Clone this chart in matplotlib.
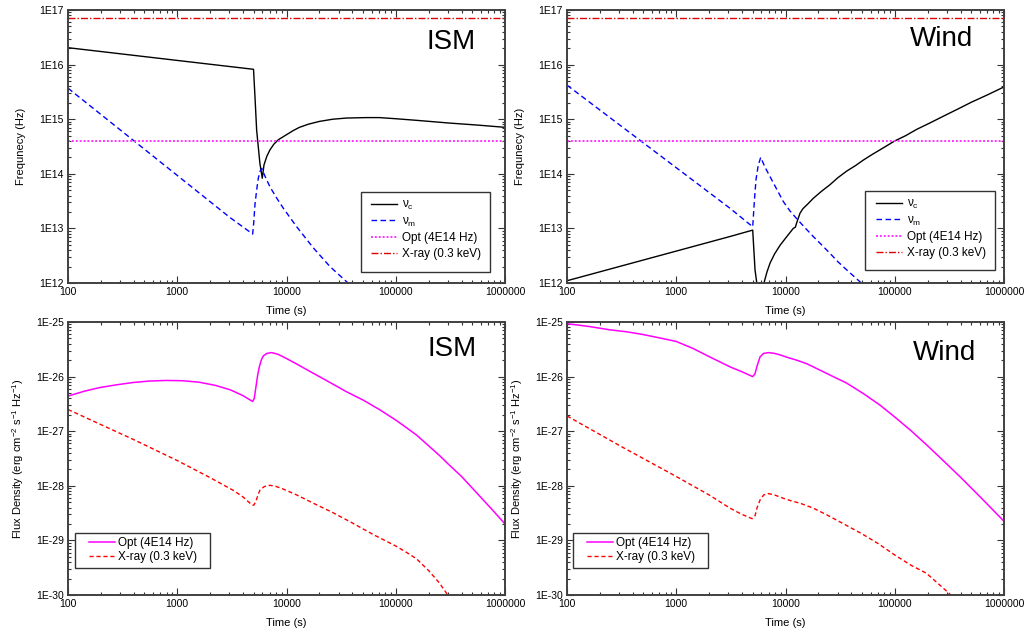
import numpy as np
import matplotlib
matplotlib.use('Agg')
import matplotlib.pyplot as plt
from matplotlib.patches import Rectangle
from matplotlib.ticker import LogLocator, FixedLocator, FuncFormatter, NullFormatter

plt.rcParams['font.family'] = ['Liberation Sans', 'DejaVu Sans']
plt.rcParams['mathtext.fontset'] = 'custom'
plt.rcParams['mathtext.rm'] = 'Liberation Sans'
plt.rcParams['mathtext.it'] = 'Liberation Sans'

# ---- data ----
nu_opt = 4e14     # Hz
nu_x = 7.25e16    # Hz (0.3 keV)

# ISM: characteristic frequencies
t_c_ism = [100, 4990, 5150, 5330, 5710, 6000, 6220, 6610, 7060, 7670, 8410, 10000,
           11530, 13150, 15850, 19950, 26550, 35500, 53700, 70800, 1e5, 158500,
           309000, 562000, 1e6]
nu_c_ism = [2.04e16, 8.2e15, 2.5e15, 6.3e14, 1.55e14, 8.3e13, 1.45e14, 2.1e14,
            2.75e14, 3.5e14, 4.2e14, 5.2e14, 6.2e14, 7.1e14, 8.1e14, 9.1e14, 1.0e15,
            1.05e15, 1.07e15, 1.07e15, 1.02e15, 9.5e14, 8.5e14, 7.8e14, 7.1e14]
t_m_ism = [100, 3040, 4900, 5010, 5150, 5330, 5520, 5710, 5930, 6310, 7060, 8130,
           9350, 12400, 17600, 25000, 35600, 45000]
nu_m_ism = [3.7e15, 1.58e13, 7.9e12, 1.26e13, 2.8e13, 5.0e13, 8.3e13, 1.1e14,
            1.26e14, 9.3e13, 5.75e13, 3.6e13, 2.34e13, 1.07e13, 4.4e12, 2.0e12,
            1.05e12, 6.9e11]

# Wind: characteristic frequencies
t_c_wind = [100, 3100, 5010, 5260, 5500, 5890, 6350, 6760, 7210, 7940, 8910, 10000,
            11780, 12300, 12650, 13580, 14450, 15850, 17950, 21400, 25500, 30200,
            36300, 43650, 51500, 61700, 73300, 1e5, 126000, 158500, 209000, 275000,
            372000, 501000, 708000, 1e6]
nu_c_wind = [1.1e12, 7.1e12, 9.3e12, 1.74e12, 9e11, 3.2e11, 1.0e12, 1.58e12, 2.3e12,
             3.4e12, 4.9e12, 6.6e12, 1.0e13, 1.05e13, 1.26e13, 1.9e13, 2.3e13,
             2.75e13, 3.55e13, 4.8e13, 6.3e13, 8.5e13, 1.12e14, 1.41e14, 1.78e14,
             2.24e14, 2.75e14, 4.0e14, 5.0e14, 6.5e14, 8.5e14, 1.12e15, 1.51e15,
             2.04e15, 2.8e15, 3.9e15]
t_m_wind = [100, 3100, 5010, 5190, 5370, 5620, 5930, 6460, 7210, 8320, 9550, 10960,
            12650, 15140, 17950, 21400, 25500, 30200, 36300, 48100, 57500]
nu_m_wind = [4.2e15, 2.34e13, 1.07e13, 3.2e13, 7.8e13, 1.41e14, 2.0e14, 1.35e14,
             8.9e13, 5.2e13, 3.1e13, 2.1e13, 1.51e13, 1.02e13, 7.1e12, 5.0e12,
             3.5e12, 2.45e12, 1.74e12, 1.05e12, 7.6e11]

# ISM: flux densities
t_f_opt_ism = [100, 141, 195, 282, 394, 562, 794, 1122, 1585, 2240, 3040, 3980, 4900,
               5070, 5260, 5440, 5640, 5890, 6140, 6610, 7310, 8320, 9350, 12400,
               17600, 25000, 35600, 50500, 71800, 1e5, 126000, 155000, 200000, 251000,
               309000, 398000, 562000, 759000, 1e6]
f_opt_ism = [4.4e-27, 5.4e-27, 6.3e-27, 7.1e-27, 7.8e-27, 8.3e-27, 8.5e-27, 8.4e-27,
             7.9e-27, 6.9e-27, 5.75e-27, 4.5e-27, 3.5e-27, 4.0e-27, 6.6e-27, 1.05e-26,
             1.51e-26, 2.04e-26, 2.4e-26, 2.66e-26, 2.75e-26, 2.57e-26, 2.3e-26,
             1.7e-26, 1.15e-26, 7.8e-27, 5.25e-27, 3.7e-27, 2.45e-27, 1.6e-27,
             1.15e-27, 8.5e-28, 5.4e-28, 3.6e-28, 2.4e-28, 1.5e-28, 7.1e-29, 3.7e-29,
             2.0e-29]
t_f_x_ism = [100, 200, 394, 1000, 2000, 3240, 3980, 4800, 5010, 5250, 5500, 5710,
             6170, 6610, 7060, 7940, 9350, 12400, 17600, 26800, 39800, 63100, 1e5,
             126000, 155000, 200000, 251000, 299000, 355000]
f_x_ism = [2.5e-27, 1.32e-27, 7.1e-28, 2.9e-28, 1.41e-28, 8.3e-29, 6.3e-29, 4.5e-29,
           4.4e-29, 5.2e-29, 6.9e-29, 8.3e-29, 9.5e-29, 1.01e-28, 1.02e-28, 9.8e-29,
           8.7e-29, 6.8e-29, 4.8e-29, 3.2e-29, 2.1e-29, 1.26e-29, 7.9e-30, 6.0e-30,
           4.6e-30, 2.8e-30, 1.66e-30, 1.0e-30, 5.6e-31]

# Wind: flux densities
t_f_opt_wind = [100, 158, 245, 355, 495, 708, 1000, 1413, 2020, 2510, 3100, 3980,
                5010, 5250, 5500, 5850, 6310, 6970, 7940, 8910, 10470, 12650, 14060,
                15850, 17950, 25500, 36300, 51500, 73300, 1e5, 141000, 200000, 275000,
                398000, 631000, 1e6]
f_opt_wind = [9.3e-26, 8.3e-26, 7.2e-26, 6.6e-26, 5.9e-26, 5.1e-26, 4.4e-26, 3.3e-26,
              2.3e-26, 1.86e-26, 1.51e-26, 1.23e-26, 1.0e-26, 1.12e-26, 1.58e-26,
              2.3e-26, 2.66e-26, 2.75e-26, 2.66e-26, 2.5e-26, 2.24e-26, 2.0e-26,
              1.86e-26, 1.7e-26, 1.51e-26, 1.07e-26, 7.6e-27, 4.9e-27, 3.0e-27,
              1.82e-27, 1.02e-27, 5.4e-28, 2.95e-28, 1.45e-28, 5.75e-29, 2.24e-29]
t_f_x_wind = [100, 316, 1000, 2000, 3100, 3980, 4950, 5250, 5500, 5850, 6310, 6970,
              7940, 9550, 11480, 13600, 17950, 23800, 33400, 50100, 70800, 1e5,
              141000, 195000, 251000, 327000, 398000]
f_x_wind = [1.9e-27, 5.2e-28, 1.48e-28, 6.8e-29, 3.9e-29, 3.0e-29, 2.5e-29, 2.8e-29,
            4.0e-29, 5.5e-29, 6.8e-29, 7.2e-29, 6.8e-29, 5.9e-29, 5.25e-29, 4.8e-29,
            3.9e-29, 2.95e-29, 2.05e-29, 1.32e-29, 8.7e-30, 5.4e-30, 3.5e-30, 2.5e-30,
            1.6e-30, 1.0e-30, 6.3e-31]

x_ticks = [100, 1000, 10000, 100000, 1000000]
freq_ticks = [1e12, 1e13, 1e14, 1e15, 1e16, 1e17]
flux_ticks = [1e-30, 1e-29, 1e-28, 1e-27, 1e-26, 1e-25]

fig = plt.figure(figsize=(10.27, 6.35), dpi=100)
W, H = 1027.0, 635.0


def make_ax(x0, y0, x1, y1):
    return fig.add_axes([x0 / W, 1 - y1 / H, (x1 - x0) / W, (y1 - y0) / H])


ax_tl = make_ax(68, 10, 505, 283)
ax_tr = make_ax(567, 10, 1004, 283)
ax_bl = make_ax(68, 322, 505, 595)
ax_br = make_ax(567, 322, 1004, 595)


def minor_between(ticks):
    out = []
    for d in ticks[:-1]:
        out += [d * k for k in range(2, 10)]
    return out


def style(ax, yticks, ylabel, ypad):
    ax.set_xscale('log')
    ax.set_yscale('log')
    ax.set_xlim(x_ticks[0], x_ticks[-1])
    ax.set_ylim(yticks[0], yticks[-1])
    ax.xaxis.set_major_locator(FixedLocator(x_ticks))
    ax.xaxis.set_major_formatter(FuncFormatter(lambda v, p: '%d' % round(v)))
    ax.xaxis.set_minor_locator(FixedLocator(minor_between(x_ticks)))
    ax.xaxis.set_minor_formatter(NullFormatter())
    ax.yaxis.set_major_locator(FixedLocator(yticks))
    ax.yaxis.set_major_formatter(FuncFormatter(lambda v, p: '1E%d' % round(np.log10(v))))
    ax.yaxis.set_minor_locator(FixedLocator(minor_between(yticks)))
    ax.yaxis.set_minor_formatter(NullFormatter())
    ax.tick_params(which='both', direction='in', top=True, right=True,
                   labelsize=7.5, colors='#333333', labelcolor='black', width=0.8)
    ax.tick_params(which='major', length=5, pad=3)
    ax.tick_params(which='minor', length=2.5)
    for s in ax.spines.values():
        s.set_linewidth(1.4)
        s.set_color('#404040')
    ax.set_xlabel('Time (s)', fontsize=8, labelpad=6)
    ax.set_ylabel(ylabel, fontsize=8, labelpad=ypad)


def legend_box(ax, x0, y0, x1, y1):
    ax.add_patch(Rectangle((x0, y0), x1 - x0, y1 - y0, transform=ax.transAxes,
                           facecolor='white', edgecolor='#333333', lw=1.0,
                           zorder=4, clip_on=False))


freq_label = 'Frequnecy (Hz)'
flux_label = r'Flux Density (erg cm$^{-2}$ s$^{-1}$ Hz$^{-1}$)'

# ---- top panels: frequencies ----
for ax, tc, nc, tm, nm, name, tx, ty, box, hx in [
        (ax_tl, t_c_ism, nu_c_ism, t_m_ism, nu_m_ism, 'ISM', 0.876, 0.883,
         (0.670, 0.040, 0.966, 0.333), 0.693),
        (ax_tr, t_c_wind, nu_c_wind, t_m_wind, nu_m_wind, 'Wind', 0.856, 0.894,
         (0.682, 0.048, 0.979, 0.337), 0.707)]:
    ax.plot(tc, nc, color='black', lw=1.0, label=r'$\nu_c$')
    ax.plot(tm, nm, color='#0000ff', lw=1.0, ls=(0, (4, 2.5)), label=r'$\nu_m$')
    ax.axhline(nu_opt, color='#ff33ff', lw=1.4, ls=(0, (1, 1)), label='Opt (4E14 Hz)')
    ax.axhline(nu_x, color='#e00000', lw=1.0, ls=(0, (5, 1.5, 1, 1.5)), label='X-ray (0.3 keV)')
    style(ax, freq_ticks, freq_label, 9.5)
    ax.text(tx, ty, name, transform=ax.transAxes, fontsize=20, ha='center', va='center')
    legend_box(ax, *box)
    leg = ax.legend(loc='upper left', bbox_to_anchor=(hx, box[3] - 0.025), borderaxespad=0,
                    fontsize=8.5, frameon=False, handlelength=2.2, labelspacing=0.3,
                    borderpad=0, handletextpad=0.4)
    leg.set_zorder(5)

# ---- bottom panels: flux densities ----
for ax, to, fo, tx_, fx, name, tx, ty, box, hx in [
        (ax_bl, t_f_opt_ism, f_opt_ism, t_f_x_ism, f_x_ism, 'ISM', 0.879, 0.902,
         (0.016, 0.099, 0.325, 0.227), 0.048),
        (ax_br, t_f_opt_wind, f_opt_wind, t_f_x_wind, f_x_wind, 'Wind', 0.863, 0.888,
         (0.014, 0.099, 0.323, 0.227), 0.046)]:
    ax.plot(to, fo, color='#ff00ff', lw=1.1, label='Opt (4E14 Hz)')
    ax.plot(tx_, fx, color='#ff0000', lw=1.0, ls=(0, (3, 2)), label='X-ray (0.3 keV)')
    style(ax, flux_ticks, flux_label, 7)
    ax.text(tx, ty, name, transform=ax.transAxes, fontsize=20, ha='center', va='center')
    legend_box(ax, *box)
    leg = ax.legend(loc='upper left', bbox_to_anchor=(hx, box[3] - 0.015), borderaxespad=0,
                    fontsize=8.5, frameon=False, handlelength=2.2, labelspacing=0.2,
                    borderpad=0, handletextpad=0.25)
    leg.set_zorder(5)

fig.savefig('out.png', dpi=100)
